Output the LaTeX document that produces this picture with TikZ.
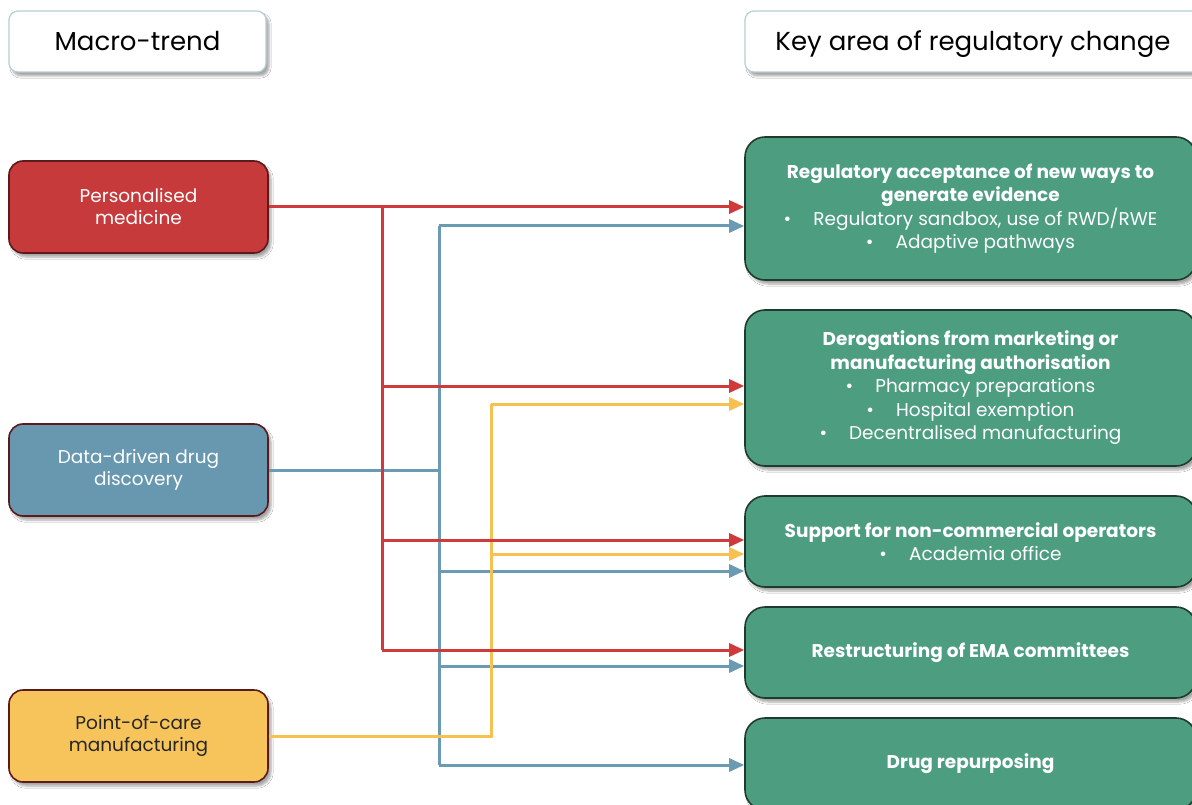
\documentclass[tikz,border=0pt]{standalone}
\usepackage{fontspec}
\setmainfont{Poppins}
\usetikzlibrary{arrows.meta,shadows.blur}
\definecolor{pmred}{HTML}{C63A3B}
\definecolor{ddblue}{HTML}{6798B0}
\definecolor{pcyel}{HTML}{F6C45A}
\definecolor{kagreen}{HTML}{4D9E80}
\definecolor{kaedge}{HTML}{1E3B2E}
\definecolor{trendedge}{HTML}{5C1A1A}
\definecolor{titleedge}{HTML}{B5CFD6}
\definecolor{lred}{HTML}{D03A3A}
\definecolor{lblue}{HTML}{6A9BB3}
\definecolor{lyel}{HTML}{F6C150}
\tikzset{
  shad/.style={blur shadow={shadow blur steps=6, shadow xshift=3pt, shadow yshift=-4pt, shadow opacity=35}},
  titlebox/.style={draw=titleedge, line width=1.2pt, fill=white, rounded corners=9pt, shad, font=\fontsize{26}{30}\selectfont, text=black, text height=22pt, text depth=4pt},
  trendbox/.style={draw=trendedge, line width=1.6pt, rounded corners=14pt, shad, minimum width=259pt, minimum height=92pt, align=center, font=\fontsize{18.5}{22}\selectfont},
  areabox/.style={draw=kaedge, line width=1.6pt, fill=kagreen, rounded corners=20pt, shad, minimum width=451pt, align=center, text=white, font=\fontsize{18.5}{23.5}\selectfont},
  conn/.style={line width=3pt, -{Triangle[length=15pt,width=13pt]}},
  seg/.style={line width=3pt}
}
\newcommand{\bul}{\textbullet\hspace{22pt}}
\begin{document}
\begin{tikzpicture}[x=1pt,y=-1pt]
\useasboundingbox (0,0) rectangle (1192,805);
\clip (0,0) rectangle (1192,805);
\fill[white] (0,0) rectangle (1192,805);
% title boxes
\node[titlebox, minimum width=257pt, minimum height=61pt] (t1) at (137.5,41.5) {Macro-trend};
\node[titlebox, minimum width=456pt, minimum height=61pt] (t2) at (973,41.5) {Key area of regulatory change};
% trend boxes
\node[trendbox, fill=pmred, text=white] (pm) at (138.5,207) {Personalised\\medicine};
\node[trendbox, fill=ddblue, text=white] (dd) at (138.5,470) {Data-driven drug\\discovery};
\node[trendbox, fill=pcyel, text=black!85] (pc) at (138.5,736) {Point-of-care\\manufacturing};
% area boxes
\node[areabox, minimum height=143pt] (g1) at (970.5,208.5) {\textbf{Regulatory acceptance of new ways to}\\\textbf{generate evidence}\\\bul Regulatory sandbox, use of RWD/RWE\\\bul Adaptive pathways};
\node[areabox, minimum height=156pt] (g2) at (970.5,388) {\textbf{Derogations from marketing or}\\\textbf{manufacturing authorisation}\\\bul Pharmacy preparations\\\bul Hospital exemption\\\bul Decentralised manufacturing};
\node[areabox, minimum height=91pt] (g3) at (970.5,541.5) {\textbf{Support for non-commercial operators}\\\bul Academia office};
\node[areabox, minimum height=91pt] (g4) at (970.5,652.5) {\textbf{Restructuring of EMA committees}};
\node[areabox, minimum height=92pt] (g5) at (970.5,764) {\textbf{Drug repurposing}};
% junction coordinates
\coordinate (rtop) at (382,207);
\coordinate (r2) at (382,386);
\coordinate (r3) at (382,540);
\coordinate (r4) at (382,650);
\coordinate (bmid) at (439,470);
\coordinate (b1) at (439,226);
\coordinate (b3) at (439,571);
\coordinate (b4) at (439,666);
\coordinate (b5) at (439,765);
\coordinate (ybot) at (491,736);
\coordinate (y2) at (491,404);
\coordinate (y3) at (491,554);
% blue connectors
\draw[seg, lblue] (dd.east |- bmid) -- (bmid);
\draw[seg, lblue] (b1) -- (b5);
\draw[conn, lblue] (b1) -- (b1 -| g1.west);
\draw[conn, lblue] (b3) -- (b3 -| g3.west);
\draw[conn, lblue] (b4) -- (b4 -| g4.west);
\draw[conn, lblue] (b5) -- (b5 -| g5.west);
% yellow connectors
\draw[seg, lyel] (pc.east |- ybot) -- (ybot) -- (y2);
\draw[conn, lyel] (y2) -- (y2 -| g2.west);
\draw[conn, lyel] (y3) -- (y3 -| g3.west);
% red connectors
\draw[conn, lred] (pm.east) -- (pm.east -| g1.west);
\draw[seg, lred] (rtop) -- (r4);
\draw[conn, lred] (r2) -- (r2 -| g2.west);
\draw[conn, lred] (r3) -- (r3 -| g3.west);
\draw[conn, lred] (r4) -- (r4 -| g4.west);
\end{tikzpicture}
\end{document}
